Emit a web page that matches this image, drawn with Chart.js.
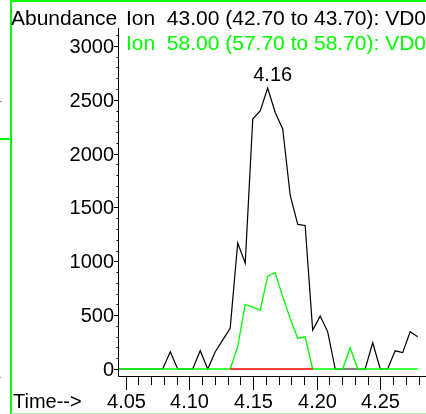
<!DOCTYPE html>
<html>
<head>
<meta charset="utf-8">
<script src="https://cdn.jsdelivr.net/npm/chart.js@4/dist/chart.umd.min.js"></script>
<style>
  html, body { margin: 0; padding: 0; background: #fff; }
  #wrap { width: 426px; height: 414px; position: relative; }
</style>
</head>
<body>
<div id="wrap"><canvas id="chart" width="426" height="414"></canvas></div>
<script>
// retention times (min), one per scan
const times = [
    4.0439, 4.0498, 4.0557, 4.0615, 4.0674, 4.0733, 4.0792, 4.0851, 4.0909, 4.0968,
    4.1027, 4.1086, 4.1145, 4.1204, 4.1262, 4.1321, 4.1380, 4.1439, 4.1498, 4.1557,
    4.1615, 4.1674, 4.1733, 4.1792, 4.1851, 4.1909, 4.1968, 4.2027, 4.2086, 4.2145,
    4.2204, 4.2262, 4.2321, 4.2380, 4.2439, 4.2498, 4.2556, 4.2615, 4.2674, 4.2733,
    4.2792
];

// Ion 43.00 (black)
const ion43 = [
    0, 0, 0, 0, 0, 0, 0, 160, 0, 0,
    0, 170, 0, 160, 268, 377, 1170, 984, 2321, 2398,
    2608, 2382, 2228, 1611, 1343, 1333, 361, 491, 345, 0,
    0, 0, 0, 0, 244, 0, 0, 169, 152, 346,
    300
];

// Ion 58.00 (green)
const ion58 = [
    0, 0, 0, 0, 0, 0, 0, 0, 0, 0,
    0, 0, 0, 0, 0, 0, 207, 599, 575, 546,
    861, 895, 670, 469, 284, 299, 0, 0, 0, 0,
    0, 197, 0, 0, 0, 0, 0, 0, 0, 0,
    0
];

// integrated baseline segment (red)
const baseline = [
    null, null, null, null, null, null, null, null, null, null,
    null, null, null, null, null, 0, 0, 0, 0, 0,
    0, 0, 0, 0, 0, 0, 0, null, null, null,
    null, null, null, null, null, null, null, null, null, null,
    null
];

const yTicks = [0, 500, 1000, 1500, 2000, 2500, 3000];
const xTicks = [4.05, 4.10, 4.15, 4.20, 4.25];
const titleLines = [
    'Ion  43.00 (42.70 to 43.70): VD0',
    'Ion  58.00 (57.70 to 58.70): VD0'
];

const FONT = '20px "Liberation Sans", Arial, sans-serif';
const HEAD_FONT = '21px "Liberation Sans", Arial, sans-serif';
const GREEN = '#00ff00';

function points(values) {
    return times.map((t, i) => ({ x: t, y: values[i] }));
}

// axes, ticks, labels and frame are drawn here so the tick lengths can differ
const chromPlugin = {
    id: 'chrom',
    afterDraw(chart) {
        const ctx = chart.ctx;
        const xs = chart.scales.x;
        const ys = chart.scales.y;
        const area = chart.chartArea;

        ctx.save();

        // green frame around the panel
        ctx.strokeStyle = GREEN;
        ctx.lineWidth = 2;
        ctx.beginPath();
        ctx.moveTo(11, 0); ctx.lineTo(11, 414);
        ctx.moveTo(11, 1); ctx.lineTo(426, 1);
        ctx.moveTo(0, 139); ctx.lineTo(11, 139);
        ctx.stroke();
        ctx.strokeStyle = '#a8f0a8';
        ctx.lineWidth = 1;
        ctx.beginPath();
        ctx.moveTo(11, 413.5); ctx.lineTo(426, 413.5);
        ctx.stroke();
        ctx.fillStyle = '#999';
        ctx.fillRect(0, 101, 2, 1);
        ctx.fillRect(0, 377, 1, 1);

        // axis lines
        ctx.strokeStyle = '#000';
        ctx.lineWidth = 1;
        ctx.beginPath();
        ctx.moveTo(area.left + 0.5, area.top);
        ctx.lineTo(area.left + 0.5, area.bottom + 0.5);
        ctx.lineTo(area.right, area.bottom + 0.5);
        ctx.stroke();

        // y minor ticks every 100
        ctx.beginPath();
        for (let v = 0; v <= 3100; v += 100) {
            const py = Math.round(ys.getPixelForValue(v)) + 0.5;
            ctx.moveTo(area.left - 1.5, py);
            ctx.lineTo(area.left + 0.5, py);
        }
        ctx.stroke();

        // y major ticks + labels
        ctx.fillStyle = '#000';
        ctx.font = FONT;
        ctx.textAlign = 'right';
        ctx.textBaseline = 'middle';
        ctx.beginPath();
        yTicks.forEach(v => {
            const py = Math.round(ys.getPixelForValue(v)) + 0.5;
            ctx.moveTo(area.left - 4, py);
            ctx.lineTo(area.left + 0.5, py);
            ctx.fillText(String(v), area.left - 4, py + 1);
        });
        ctx.stroke();

        // x minor ticks every 0.01
        ctx.beginPath();
        for (let i = 405; i <= 428; i++) {
            const px = Math.round(xs.getPixelForValue(i / 100)) + 0.5;
            if (px > area.right) break;
            ctx.moveTo(px, area.bottom + 1);
            ctx.lineTo(px, area.bottom + 9);
        }
        ctx.stroke();

        // x major ticks + labels
        ctx.textAlign = 'center';
        ctx.beginPath();
        xTicks.forEach(v => {
            const px = Math.round(xs.getPixelForValue(v)) + 0.5;
            ctx.moveTo(px, area.bottom + 1);
            ctx.lineTo(px, area.bottom + 14);
            ctx.fillText(v.toFixed(2), px, area.bottom + 26);
        });
        ctx.stroke();

        ctx.textAlign = 'left';
        ctx.fillText('Time-->', 13, area.bottom + 26);

        // header
        ctx.font = HEAD_FONT;
        ctx.textBaseline = 'alphabetic';
        ctx.fillText('Abundance', 11, 25);
        ctx.fillText(titleLines[0], 126, 25);
        ctx.fillStyle = GREEN;
        ctx.fillText(titleLines[1], 126, 50);

        // apex label of the main peak
        let top = 0;
        ion43.forEach((v, i) => { if (v > ion43[top]) top = i; });
        const ax = xs.getPixelForValue(times[top]);
        const ay = ys.getPixelForValue(ion43[top]);
        ctx.font = FONT;
        ctx.fillStyle = '#000';
        ctx.textAlign = 'center';
        ctx.textBaseline = 'middle';
        ctx.fillText(times[top].toFixed(2), ax + 5, ay - 13);

        ctx.restore();
    }
};

const chart = new Chart(document.getElementById('chart').getContext('2d'), {
    type: 'line',
    data: {
        datasets: [
            {
                label: 'baseline',
                data: points(baseline),
                borderColor: '#ff0000',
                borderWidth: 1.3,
                pointRadius: 0,
                spanGaps: false
            },
            {
                label: 'Ion 58.00',
                data: points(ion58),
                borderColor: GREEN,
                borderWidth: 1.3,
                pointRadius: 0
            },
            {
                label: 'Ion 43.00',
                data: points(ion43),
                borderColor: '#000',
                borderWidth: 1.2,
                pointRadius: 0
            }
        ]
    },
    options: {
        responsive: false,
        animation: false,
        layout: { padding: { left: 118, right: 0, top: 28, bottom: 38 } },
        elements: { line: { tension: 0 } },
        scales: {
            x: { type: 'linear', min: 4.0441, max: 4.2857, display: false },
            y: { type: 'linear', min: -65, max: 3166, display: false }
        },
        plugins: {
            legend: { display: false },
            tooltip: { enabled: false }
        }
    },
    plugins: [chromPlugin]
});
</script>
</body>
</html>
